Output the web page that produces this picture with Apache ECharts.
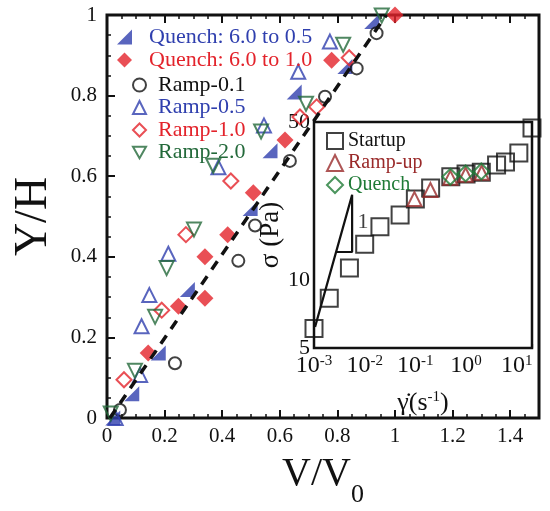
<!DOCTYPE html>
<html><head><meta charset="utf-8">
<script src="https://cdn.jsdelivr.net/npm/echarts@6/dist/echarts.min.js"></script>
<style>html,body{margin:0;padding:0;background:#fff}#c{width:550px;height:511px}</style>
</head><body><div id="c"></div>
<script>
// ---------- main panel data: [V/V0, Y/H] ----------
const quench05 = [[0.02,0.0],[0.086,0.06],[0.178,0.161],[0.279,0.319],[0.497,0.52],[0.566,0.663],[0.65,0.809],[0.826,0.872],[0.919,0.984]];
const quench10 = [[0.143,0.161],[0.248,0.2775],[0.34,0.297],[0.34,0.40],[0.419,0.455],[0.508,0.559],[0.618,0.69],[0.78,0.888],[1.0,1.0]];
const ramp01 = [[0.045,0.02],[0.236,0.136],[0.456,0.39],[0.514,0.4775],[0.635,0.638],[0.757,0.797],[0.867,0.8675],[0.936,0.955]];
const ramp05 = [[0.03,0.0],[0.115,0.107],[0.12,0.2275],[0.147,0.305],[0.213,0.4075],[0.387,0.622],[0.545,0.726],[0.664,0.859],[0.774,0.934]];
const ramp10 = [[0.059,0.095],[0.19,0.2675],[0.274,0.455],[0.43,0.588],[0.67,0.747],[0.728,0.772],[0.841,0.894]];
const ramp20 = [[0.013,0.011],[0.097,0.117],[0.167,0.251],[0.207,0.372],[0.302,0.4675],[0.369,0.626],[0.535,0.711],[0.691,0.78],[0.82,0.926],[0.954,0.999]];
const guideLine = [[0.01,0.0],[0.97,1.0]];

// ---------- inset data: [shear rate, stress] ----------
const startupRate = [0.001,0.002,0.005,0.01,0.02,0.05,0.1,0.2,0.5,1,2,4,6,11,20];
const startupStress = [6.1,8.3,11.3,14.4,17.2,19.4,22.8,25.5,28.6,29.4,30,32.3,33.3,36.5,47];
const rampUpRate = [0.096,0.198,0.49,0.98,2.03];
const rampUpStress = [22.8,25.0,28.3,29.2,29.8];
const quenchRate = [0.49,0.98,2.0];
const quenchStress = [28.6,29.6,30.2];
const slopeTriangle = [[0.00105,6.2],[0.00565,23.8],[0.00565,13.3],[0.00273,13.3]];
const slopeLabelPos = [[0.0093,18.1]];

// ---------- tick values ----------
const insetMinorX = [];
[0.001,0.01,0.1,1,10].forEach(d => { for (let k = 2; k <= 9; k++) { const v = +(d*k).toPrecision(3); if (v <= 20) insetMinorX.push(v); } });
const insetMinorY = [6,7,8,9,20,30,40];

const FONT = "'Liberation Serif','Times New Roman',serif";
const BLUE = '#2f3fae', RED = '#e3232b', GREEN = '#23693a', BLACK = '#111';
const DRED = '#9a2a2a', DGREEN = '#1f7a36';
const DOWN_TRI = 'path://M0,0 L10,0 L5,8.66 Z';
const zip = (a, b) => a.map((v, i) => [v, b[i]]);

function openStyle(c) { return { color: 'rgba(255,255,255,0)', borderColor: c, borderWidth: 2 }; }

const chart = echarts.init(document.getElementById('c'), null, { renderer: 'canvas' });
const mainTick = { show: true, inside: true, length: 8, lineStyle: { color: BLACK, width: 2 } };
const mainMinor = { show: true, splitNumber: 4, length: 4, lineStyle: { color: BLACK, width: 1.5 } };

chart.setOption({
  animation: false,
  backgroundColor: '#fff',
  textStyle: { fontFamily: FONT },
  grid: [
    { left: 107, right: 11, top: 15, bottom: 93, containLabel: false, outerBoundsMode: 'none', show: true, borderColor: BLACK, borderWidth: 3, backgroundColor: 'transparent', z: 0 },
    { left: 314, right: 18, top: 122, bottom: 163, containLabel: false, outerBoundsMode: 'none', show: true, borderColor: BLACK, borderWidth: 2.5, backgroundColor: '#fff', z: 3 }
  ],
  legend: [
    { orient: 'vertical', left: 112, top: 21, itemWidth: 15, itemHeight: 15, itemGap: 1,
      textStyle: { fontSize: 22, fontFamily: FONT, padding: [0,0,0,12] },
      data: [ { name: 'Quench: 6.0 to 0.5', textStyle: { color: BLUE } }, { name: 'Quench: 6.0 to 1.0', textStyle: { color: RED } } ] },
    { orient: 'vertical', left: 127, top: 69, itemWidth: 13, itemHeight: 13, itemGap: 0.5,
      textStyle: { fontSize: 22, fontFamily: FONT, padding: [0,0,0,7] },
      data: [ { name: 'Ramp-0.1', textStyle: { color: BLACK } }, { name: 'Ramp-0.5', textStyle: { color: BLUE } },
              { name: 'Ramp-1.0', textStyle: { color: RED } }, { name: 'Ramp-2.0', textStyle: { color: GREEN } } ] },
    { orient: 'vertical', left: 321, top: 126, itemWidth: 16, itemHeight: 16, itemGap: 2, z: 10,
      textStyle: { fontSize: 20, fontFamily: FONT },
      data: [ { name: 'Startup', textStyle: { color: BLACK } }, { name: 'Ramp-up', textStyle: { color: DRED } }, { name: 'Quench', textStyle: { color: DGREEN } } ] }
  ],
  xAxis: [
    { gridIndex: 0, type: 'value', min: 0, max: 1.5, interval: 0.2, position: 'bottom',
      axisLine: { show: false }, axisTick: mainTick, minorTick: mainMinor, splitLine: { show: false },
      axisLabel: { fontSize: 21, color: BLACK, margin: 8, showMaxLabel: false, fontFamily: FONT },
      name: '{a|V/V}{s|0}', nameLocation: 'middle', nameGap: 36,
      nameTextStyle: { rich: { a: { fontSize: 40, fontFamily: FONT, color: BLACK, verticalAlign: 'top' }, s: { fontSize: 26, fontFamily: FONT, color: BLACK, verticalAlign: 'bottom', padding: [28,0,0,0] } } } },
    { gridIndex: 0, type: 'value', min: 0, max: 1.5, interval: 0.2, position: 'top',
      axisLine: { show: false }, axisTick: mainTick, minorTick: mainMinor, splitLine: { show: false }, axisLabel: { show: false } },
    { gridIndex: 1, type: 'log', logBase: 10, min: 0.001, max: 20, position: 'bottom',
      axisLine: { show: false }, axisTick: { show: true, inside: true, length: 8, lineStyle: { color: BLACK, width: 1.5 } },
      splitLine: { show: false }, minorTick: { show: false },
      axisLabel: { color: BLACK, margin: 6, showMaxLabel: false,
        formatter: v => '{b|10}{p|' + Math.round(Math.log10(v)) + '}',
        rich: { b: { fontSize: 24, fontFamily: FONT, color: BLACK, verticalAlign: 'bottom' }, p: { fontSize: 15, fontFamily: FONT, color: BLACK, verticalAlign: 'top' } } },
      name: '{g|γ̇}{t|(s}{p|-1}{t|)}', nameLocation: 'middle', nameGap: 42,
      nameTextStyle: { rich: { g: { fontSize: 26, fontFamily: FONT, color: BLACK, verticalAlign: 'bottom' }, t: { fontSize: 26, fontFamily: FONT, color: BLACK, verticalAlign: 'bottom' }, p: { fontSize: 15, fontFamily: FONT, color: BLACK, verticalAlign: 'top' } } } },
    { gridIndex: 1, type: 'log', logBase: 10, min: 0.001, max: 20, position: 'bottom',
      axisLine: { show: false }, axisLabel: { show: false }, splitLine: { show: false },
      axisTick: { show: true, inside: true, length: 4, customValues: insetMinorX, lineStyle: { color: BLACK, width: 1.2 } } }
  ],
  yAxis: [
    { gridIndex: 0, type: 'value', min: 0, max: 1, interval: 0.2,
      axisLine: { show: false }, axisTick: mainTick, minorTick: mainMinor, splitLine: { show: false },
      axisLabel: { fontSize: 21, color: BLACK, margin: 10, fontFamily: FONT },
      name: 'Y/H', nameLocation: 'middle', nameGap: 50,
      nameTextStyle: { fontSize: 46, fontFamily: FONT, color: BLACK } },
    { gridIndex: 1, type: 'log', logBase: 10, min: 5, max: 50,
      axisLine: { show: false }, axisTick: { show: true, inside: true, length: 8, lineStyle: { color: BLACK, width: 1.5 } },
      splitLine: { show: false },
      axisLabel: { fontSize: 22, color: BLACK, margin: 4, fontFamily: FONT },
      name: 'σ (Pa)', nameLocation: 'middle', nameGap: 14,
      nameTextStyle: { fontSize: 27, fontFamily: FONT, color: BLACK } },
    { gridIndex: 1, type: 'log', logBase: 10, min: 5, max: 50,
      axisLine: { show: false }, axisLabel: { show: false }, splitLine: { show: false },
      axisTick: { show: true, inside: true, length: 4, customValues: insetMinorY, lineStyle: { color: BLACK, width: 1.2 } } }
  ],
  series: [
    { name: 'Quench: 6.0 to 0.5', type: 'scatter', xAxisIndex: 0, yAxisIndex: 0, data: quench05,
      symbol: 'path://M10,0 L10,10 L0,10 Z', symbolSize: 15, itemStyle: { color: BLUE } },
    { name: 'Quench: 6.0 to 1.0', type: 'scatter', xAxisIndex: 0, yAxisIndex: 0, data: quench10,
      symbol: 'diamond', symbolSize: 17, itemStyle: { color: RED } },
    { name: 'Ramp-0.1', type: 'scatter', xAxisIndex: 0, yAxisIndex: 0, data: ramp01,
      symbol: 'circle', symbolSize: 12, itemStyle: openStyle(BLACK) },
    { name: 'Ramp-0.5', type: 'scatter', xAxisIndex: 0, yAxisIndex: 0, data: ramp05,
      symbol: 'triangle', symbolSize: 14, itemStyle: openStyle(BLUE) },
    { name: 'Ramp-1.0', type: 'scatter', xAxisIndex: 0, yAxisIndex: 0, data: ramp10,
      symbol: 'diamond', symbolSize: 15, itemStyle: openStyle(RED) },
    { name: 'Ramp-2.0', type: 'scatter', xAxisIndex: 0, yAxisIndex: 0, data: ramp20,
      symbol: DOWN_TRI, symbolSize: 14, itemStyle: openStyle(GREEN) },
    { name: 'guide', type: 'line', xAxisIndex: 0, yAxisIndex: 0, data: guideLine, symbol: 'none', z: 4,
      lineStyle: { color: BLACK, width: 3.5, type: [10, 8] }, silent: true },
    { name: 'Startup', type: 'scatter', xAxisIndex: 2, yAxisIndex: 1, data: zip(startupRate, startupStress), z: 5,
      symbol: 'rect', symbolSize: 17, itemStyle: openStyle(BLACK) },
    { name: 'Ramp-up', type: 'scatter', xAxisIndex: 2, yAxisIndex: 1, data: zip(rampUpRate, rampUpStress), z: 6,
      symbol: 'triangle', symbolSize: 14, itemStyle: openStyle(DRED) },
    { name: 'Quench', type: 'scatter', xAxisIndex: 2, yAxisIndex: 1, data: zip(quenchRate, quenchStress), z: 7,
      symbol: 'diamond', symbolSize: 16, itemStyle: openStyle(DGREEN) },
    { name: 'slope', type: 'line', xAxisIndex: 2, yAxisIndex: 1, data: slopeTriangle, symbol: 'none', z: 5,
      lineStyle: { color: BLACK, width: 2.2 }, silent: true },
    { name: 'slopeLabel', type: 'scatter', xAxisIndex: 2, yAxisIndex: 1, data: slopeLabelPos, z: 5,
      symbolSize: 1, itemStyle: { color: 'rgba(0,0,0,0)' }, silent: true,
      label: { show: true, position: 'inside', formatter: '1', fontSize: 22, fontFamily: FONT, color: BLACK } }
  ]
});
</script></body></html>
